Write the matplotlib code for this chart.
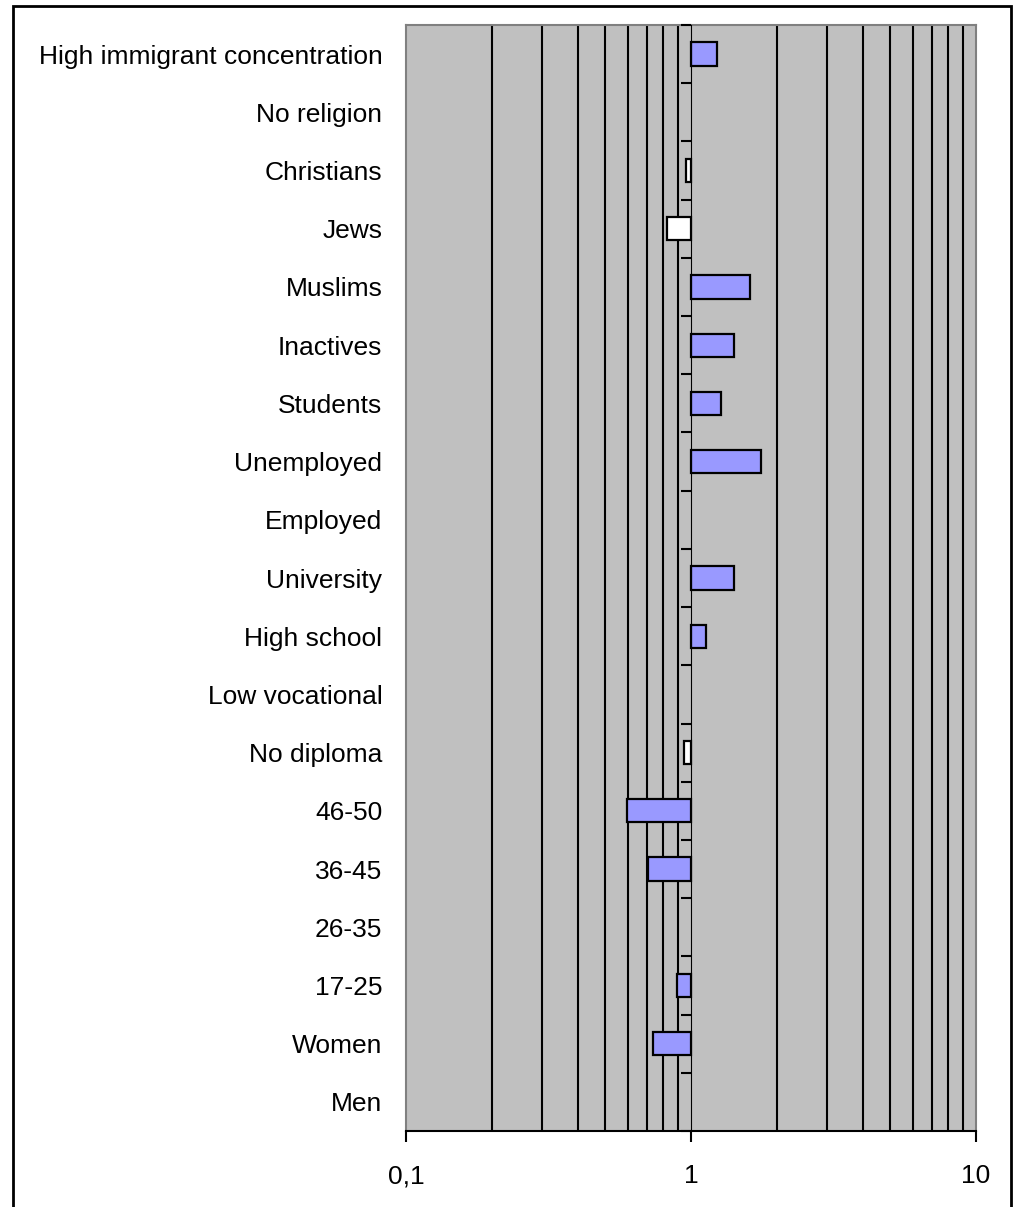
import numpy as np
import matplotlib.pyplot as plt
from matplotlib.patches import Rectangle

plt.rcParams['font.family'] = ['Liberation Sans', 'DejaVu Sans']

# Categories from bottom to top; None = reference category (no bar)
categories = [
    'Men', 'Women', '17-25', '26-35', '36-45', '46-50',
    'No diploma', 'Low vocational', 'High school', 'University',
    'Employed', 'Unemployed', 'Students', 'Inactives',
    'Muslims', 'Jews', 'Christians', 'No religion',
    'High immigrant concentration',
]
odds_ratios = [
    None, 0.736, 0.893, None, 0.705, 0.598,
    0.943, None, 1.13, 1.41,
    None, 1.76, 1.27, 1.41,
    1.61, 0.827, 0.958, None,
    1.234,
]
significant = [
    False, True, True, False, True, True,
    False, False, True, True,
    False, True, True, True,
    True, False, False, False,
    True,
]
x_ticks = [0.1, 1, 10]
x_tick_labels = ['0,1', '1', '10']

fig = plt.figure(figsize=(10.14, 12.07), dpi=100)
ax = fig.add_axes([406 / 1014, 1 - 1131 / 1207, 570 / 1014, 1106 / 1207])
ax.set_facecolor('#C0C0C0')
ax.set_xscale('log')
ax.set_xlim(0.1, 10)
ax.set_ylim(-0.5, len(categories) - 0.5)

# vertical gridlines at the minor log positions
minor = [m * d for d in (0.1, 1) for m in range(2, 10)]
for xv in minor:
    ax.axvline(xv, color='black', lw=1.5, zorder=1)

# bars drawn from the reference value 1
for i, (v, sig) in enumerate(zip(odds_ratios, significant)):
    if v is None:
        continue
    ax.barh(i, v - 1, left=1, height=0.4,
            color='#9999FF' if sig else 'white',
            edgecolor='black', lw=1.6, zorder=3)

# category axis crossing at 1
sec = ax.secondary_yaxis(0.5)
sec.set_yticks(np.arange(len(categories) + 1) - 0.5)
sec.set_yticklabels([])
sec.tick_params(axis='y', direction='in', length=7.5, width=1.5, color='black')
sec.spines['left'].set_color('black')
sec.spines['left'].set_linewidth(1.5)
sec.set_zorder(4)

ax.set_yticks(np.arange(len(categories)))
ax.set_yticklabels(categories, fontsize=19)
ax.tick_params(axis='y', length=0, pad=17)

ax.set_xticks(x_ticks)
ax.set_xticklabels(x_tick_labels, fontsize=19)
ax.xaxis.set_minor_locator(plt.NullLocator())
ax.tick_params(axis='x', direction='out', length=8, width=1.5, pad=16)

for side in ('left', 'right', 'top'):
    ax.spines[side].set_color('#808080')
    ax.spines[side].set_linewidth(1.5)
ax.spines['bottom'].set_color('black')
ax.spines['bottom'].set_linewidth(1.5)

# outer chart border
fig.patches.append(Rectangle((13 / 1014, -0.01), (1011 - 13) / 1014, 1 - 6 / 1207 + 0.01,
                             transform=fig.transFigure, fill=False,
                             edgecolor='black', lw=2))

fig.savefig('out.png', dpi=100)
